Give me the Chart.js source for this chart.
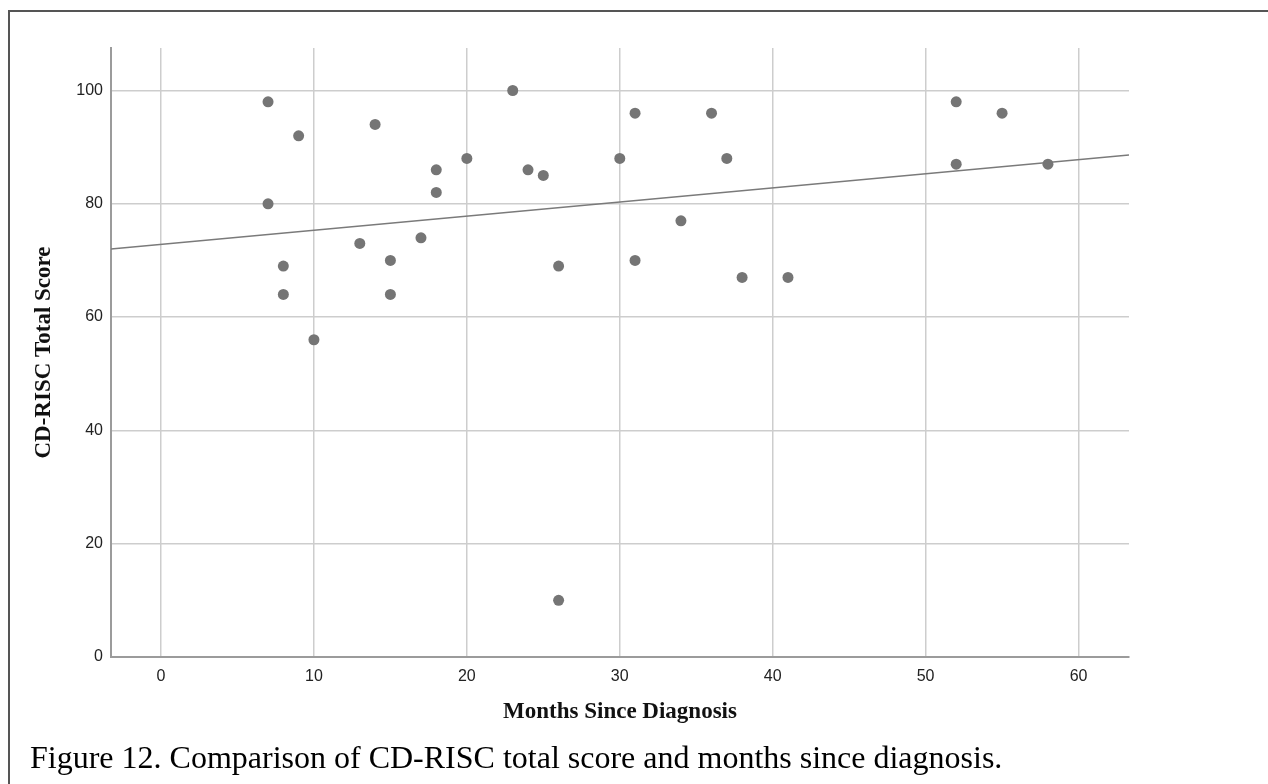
<!DOCTYPE html>
<html>
<head>
<meta charset="utf-8">
<script src="https://cdn.jsdelivr.net/npm/chart.js@4"></script>
<style>
  html, body { margin: 0; padding: 0; background: #fff; }
  #wrap { position: relative; width: 1268px; height: 784px; overflow: hidden; }
  #frame { position: absolute; left: 8px; top: 10px; right: -10px; bottom: -10px;
           border-left: 2px solid #555; border-top: 2px solid #555; }
  #chart { position: absolute; left: 0; top: 0; }
  #caption { position: absolute; left: 30px; top: 741px; font-family: "Liberation Serif", "Times New Roman", serif;
             font-size: 32px; color: #000; white-space: nowrap; line-height: 1; }
</style>
</head>
<body>
<div id="wrap">
  <div id="frame"></div>
  <canvas id="chart" width="1268" height="784"></canvas>
  <div id="caption">Figure 12. Comparison of CD-RISC total score and months since diagnosis.</div>
</div>
<script>
// values
const months = [7, 9, 14, 23, 20, 18, 18, 24, 25, 7, 13, 17, 8, 15, 26, 8, 15, 10,
                31, 36, 30, 37, 34, 31, 38, 41, 52, 55, 52, 58, 26];
const scores = [98, 92, 94, 100, 88, 86, 82, 86, 85, 80, 73, 74, 69, 70, 69, 64, 64, 56,
                96, 96, 88, 88, 77, 70, 67, 67, 98, 96, 87, 87, 10];

// fit line, read at the two ends of the plot
const fitX = [-3.27, 63.3];
const fitY = [72.0, 88.6];

const xTitle = 'Months Since Diagnosis';
const yTitle = 'CD-RISC Total Score';

const tickFont = { family: '"Liberation Sans", Arial, sans-serif', size: 16 };
const titleFont = { family: '"Liberation Serif", "Times New Roman", serif', size: 23, weight: 'bold' };

new Chart(document.getElementById('chart'), {
  type: 'scatter',
  data: {
    datasets: [
      {
        data: months.map((m, i) => ({ x: m, y: scores[i] })),
        backgroundColor: '#757575',
        borderWidth: 0,
        pointRadius: 5.5,
      },
      {
        type: 'line',
        data: fitX.map((x, i) => ({ x, y: fitY[i] })),
        borderColor: '#7a7a7a',
        borderWidth: 1.5,
        pointRadius: 0,
        fill: false,
      },
    ],
  },
  options: {
    responsive: false,
    animation: false,
    layout: { padding: { left: 30, right: 139, top: 48, bottom: 58 } },
    plugins: { legend: { display: false }, tooltip: { enabled: false } },
    scales: {
      x: {
        type: 'linear',
        min: -3.27,
        max: 63.3,
        afterFit: (s) => { s.height = 69; },
        ticks: { stepSize: 10, includeBounds: false, padding: 10, color: '#222', font: tickFont },
        grid: { color: '#cdcdcd', lineWidth: 1.5, drawTicks: false },
        border: { color: '#9b9b9b', width: 2 },
        title: { display: true, text: xTitle, color: '#111', font: titleFont, padding: 0 },
      },
      y: {
        min: 0,
        max: 107.5,
        afterFit: (s) => { s.width = 81; },
        ticks: { stepSize: 20, includeBounds: false, padding: 8, color: '#222', font: tickFont },
        grid: { color: '#cdcdcd', lineWidth: 1.5, drawTicks: false },
        border: { color: '#9b9b9b', width: 2 },
        title: { display: true, text: yTitle, color: '#111', font: titleFont, padding: 0 },
      },
    },
  },
});
</script>
</body>
</html>
